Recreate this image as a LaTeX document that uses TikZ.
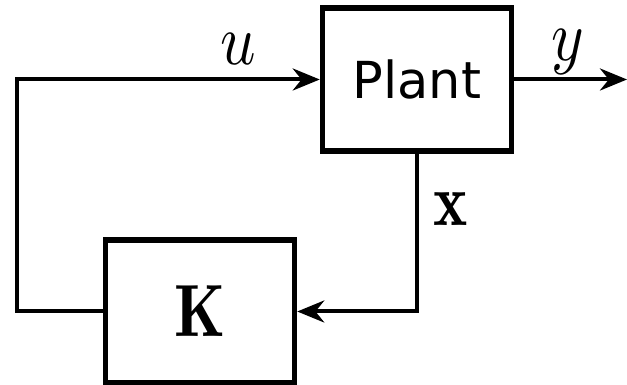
\documentclass[tikz,border=0pt]{standalone}
\usepackage{graphicx}
\usepackage{fontspec}
\newfontfamily\plantfont{DejaVu Sans}
\usetikzlibrary{arrows.meta}
\newcommand{\sigmath}[1]{\scalebox{6.2}[7.2]{\normalsize$#1$}}
\newcommand{\sigbold}[1]{\scalebox{6.5}[7.4]{\normalsize$\mathbf{#1}$}}
\tikzset{
  blockbox/.style={draw,line width=5.5pt,minimum width=189pt,minimum height=143pt,inner sep=0pt},
  sig/.style={line width=4pt},
  lbl/.style={inner sep=0pt}
}
\begin{document}
\begin{tikzpicture}[x=1pt,y=1pt,>={Stealth[length=27pt,width=22pt]}]
			\useasboundingbox (0,0) rectangle (627,385);
			\node[blockbox,font=\plantfont\fontsize{51}{51}\selectfont] (plant) at (417,305.5) {Plant};
			\node[blockbox] (ctrl) at (200,73.5) {\sigbold{K}};
			\coordinate (out) at (627,305.5);
			\coordinate (lefttop) at (17,305.5);
			\coordinate (leftbot) at (17,73.5);
			\draw[sig,->] (plant.east) -- (out);
			\draw[sig,->] (plant.south) |- (ctrl.east);
			\draw[sig,->] (ctrl.west) -- (leftbot) -- (lefttop) -- (plant.west);
			\node[lbl] (ulab) at (238,336) {\sigmath{u}};
			\node[lbl] (ylab) at (568,333) {\sigmath{y}};
			\node[lbl] (xlab) at (451,176) {\sigbold{x}};
		\end{tikzpicture}
\end{document}
